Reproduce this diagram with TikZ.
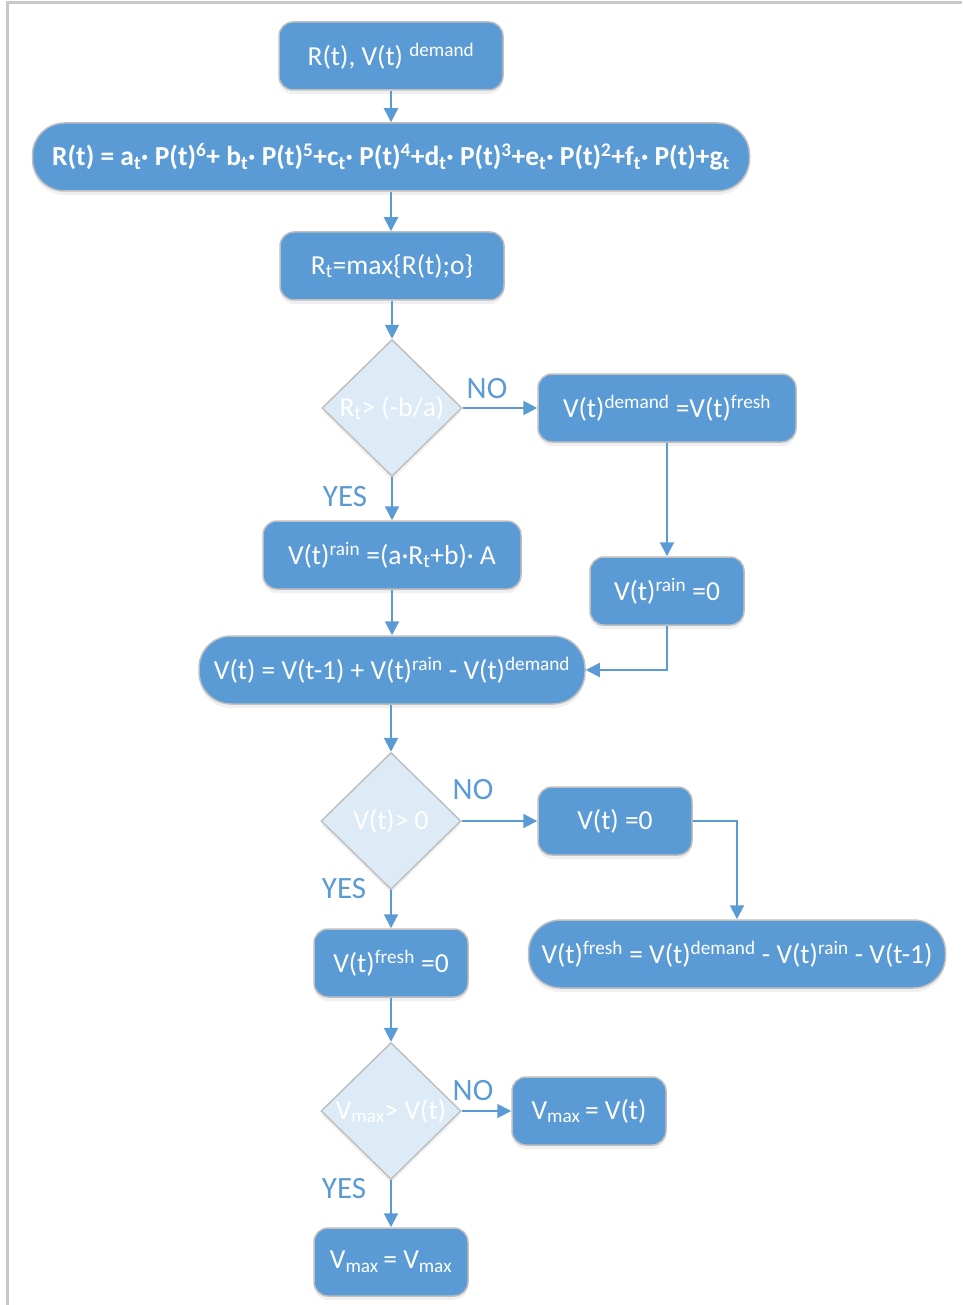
\documentclass[tikz,border=0pt]{standalone}
\usepackage{fontspec}
\setmainfont{Carlito}
\usetikzlibrary{shapes.geometric,arrows.meta,shadows}
\definecolor{boxblue}{HTML}{5B9BD5}
\definecolor{diafill}{HTML}{DDEBF7}
\definecolor{rimgray}{HTML}{BFBFBF}
\definecolor{framegray}{HTML}{C8C8C8}
\tikzset{
	block/.style = {draw = rimgray, line width = 1.5pt, fill = boxblue, rounded corners = 14pt, text = white, minimum height = 68pt, inner sep = 2pt, font = \fontsize{27.5}{32}\selectfont, drop shadow = {opacity = 0.12, shadow xshift = 0pt, shadow yshift = -4pt}},
	pill/.style = {block, rounded corners = 32pt},
	decision/.style = {diamond, draw = rimgray, line width = 1.5pt, fill = diafill, minimum width = 140pt, minimum height = 137pt, inner sep = 0pt, drop shadow = {opacity = 0.10, shadow xshift = 0pt, shadow yshift = -4pt}},
	dtext/.style = {text = white, font = \fontsize{27.5}{32}\selectfont},
	flow/.style = {draw = boxblue, line width = 2pt, -{Triangle[length = 14pt, width = 14pt]}},
	answer/.style = {text = boxblue, font = \fontsize{31}{36}\selectfont}
}
\begin{document}
\begin{tikzpicture}[x = 1pt, y = -1pt]
	\useasboundingbox (0,0) rectangle (962,1305);
	\draw[color = framegray, line width = 3pt] (7,1305) -- (7,3) -- (962,3);

	\node[block, minimum width = 224pt] (input) at (391,56) {R(t), V(t) \textsuperscript{demand}};
	\node[pill, minimum width = 717pt, font = \bfseries\fontsize{27.5}{32}\selectfont] (poly) at (391,157) {R(t) = a\textsubscript{t}· P(t)\textsuperscript{6}+ b\textsubscript{t}· P(t)\textsuperscript{5}+c\textsubscript{t}· P(t)\textsuperscript{4}+d\textsubscript{t}· P(t)\textsuperscript{3}+e\textsubscript{t}· P(t)\textsuperscript{2}+f\textsubscript{t}· P(t)+g\textsubscript{t}};
	\node[block, minimum width = 224pt] (rmax) at (392,266) {R\textsubscript{t}=max\{R(t);o\}};
	\node[decision] (dec1) at (392,408) {};
	\node[dtext] (dec1txt) at (dec1) {R\textsubscript{t}> (-b/a)};
	\node[block, minimum width = 258pt] (demfresh) at (667,408) {V(t)\textsuperscript{demand} =V(t)\textsuperscript{fresh}};
	\node[block, minimum width = 258pt] (rainv) at (392,555) {V(t)\textsuperscript{rain} =(a·R\textsubscript{t}+b)· A};
	\node[block, minimum width = 154pt] (rainzero) at (667,591) {V(t)\textsuperscript{rain} =0};
	\node[pill, minimum width = 386pt] (balance) at (392,670) {V(t) = V(t-1) + V(t)\textsuperscript{rain} - V(t)\textsuperscript{demand}};
	\node[decision] (dec2) at (391,821) {};
	\node[dtext] (dec2txt) at (dec2) {V(t)> 0};
	\node[block, minimum width = 154pt] (vzero) at (615,821) {V(t) =0};
	\node[pill, minimum width = 417pt] (freshv) at (737,954) {V(t)\textsuperscript{fresh} = V(t)\textsuperscript{demand} - V(t)\textsuperscript{rain} - V(t-1)};
	\node[block, minimum width = 154pt] (freshzero) at (391,963) {V(t)\textsuperscript{fresh} =0};
	\node[decision] (dec3) at (391,1111) {};
	\node[dtext] (dec3txt) at (dec3) {V\textsubscript{max}> V(t)};
	\node[block, minimum width = 154pt] (newmax) at (589,1111) {V\textsubscript{max}\,= V(t)};
	\node[block, minimum width = 154pt] (keepmax) at (391,1262) {V\textsubscript{max}\,= V\textsubscript{max}};

	\draw[flow] (input.south -| poly.north) -- (poly.north);
	\draw[flow] (poly.south) -- (poly.south |- rmax.north);
	\draw[flow] (rmax.south) -- (dec1.north);
	\draw[flow] (dec1.east) -- (demfresh.west);
	\draw[flow] (dec1.south) -- (rainv.north);
	\draw[flow] (demfresh.south) -- (rainzero.north);
	\draw[flow] (rainv.south) -- (balance.north);
	\draw[flow] (rainzero.south) |- (balance.east);
	\draw[flow] (balance.south -| dec2.north) -- (dec2.north);
	\draw[flow] (dec2.east) -- (vzero.west);
	\draw[flow] (dec2.south) -- (freshzero.north);
	\draw[flow] (vzero.east) -| (freshv.north);
	\draw[flow] (freshzero.south) -- (dec3.north);
	\draw[flow] (dec3.east) -- (newmax.west);
	\draw[flow] (dec3.south) -- (keepmax.north);

	\node[answer] (no1) at (487,389) {NO};
	\node[answer] (yes1) at (345,497) {YES};
	\node[answer] (no2) at (473,790) {NO};
	\node[answer] (yes2) at (344,889) {YES};
	\node[answer] (no3) at (473,1091) {NO};
	\node[answer] (yes3) at (344,1189) {YES};
\end{tikzpicture}
\end{document}
